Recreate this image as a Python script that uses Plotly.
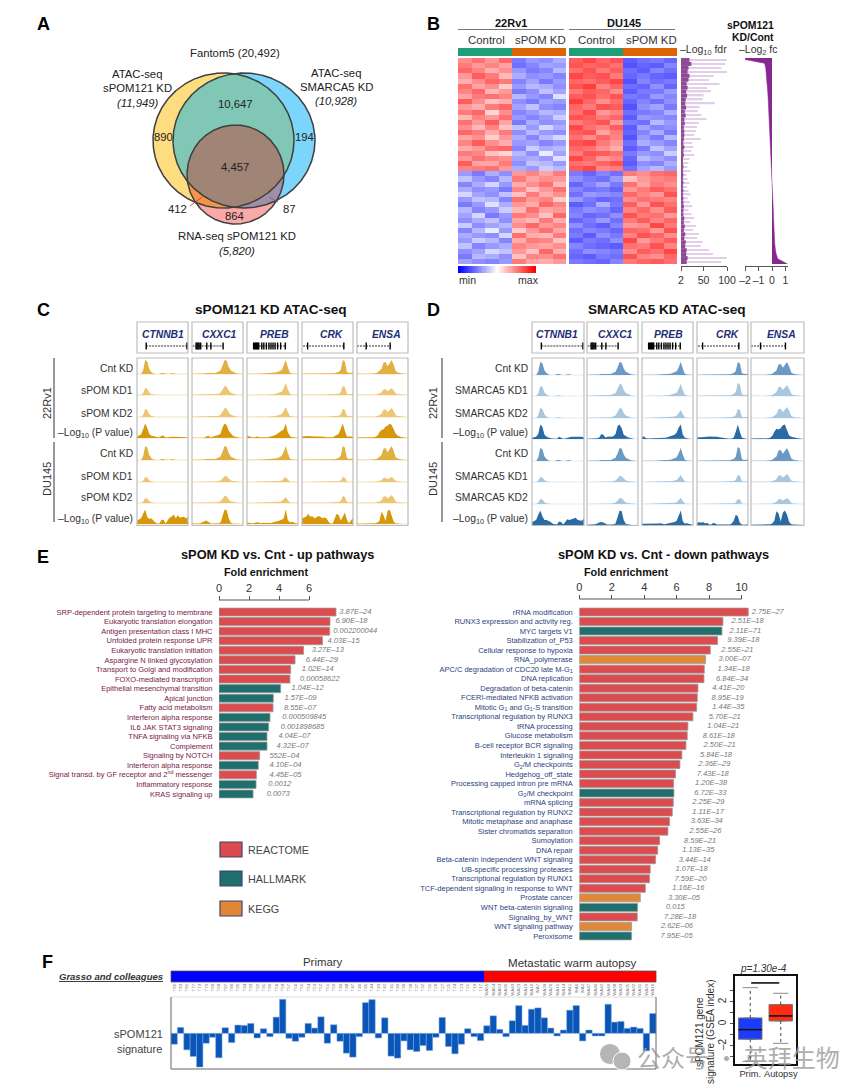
import numpy as np
import plotly.graph_objects as go

W, H = 865, 1091
FONT = "Liberation Sans"
DARK = "#333333"

# ---------- DATA ----------
venn_sets = {"yellow": (223.5, 140.5, 70.5, 67.5), "blue": (244, 140.5, 71, 67.5), "pink": (235.5, 174.5, 48.5, 49.5)}

heat_22rv1 = [
 [72,78,70,80,24,30,28,34],[76,70,74,68,22,26,32,30],[80,74,66,72,30,24,26,36],[70,82,76,64,34,28,30,26],
 [66,72,80,76,26,32,24,30],[78,68,72,60,30,36,34,28],[74,80,64,70,24,28,38,32],[68,76,78,74,36,30,26,44],
 [82,72,62,66,28,24,32,30],[70,66,76,80,32,38,28,26],[76,80,58,72,26,30,36,34],[64,74,70,78,30,26,30,40],
 [78,70,82,68,24,34,28,30],[72,64,74,62,38,30,42,34],[80,76,66,76,28,36,30,28],[68,72,60,70,34,26,36,42],
 [74,82,72,66,30,32,26,30],[66,70,78,80,26,40,34,36],[76,74,62,58,36,28,46,32],[70,78,74,72,32,34,30,44],
 [82,68,68,76,28,38,36,30],[74,76,78,70,34,30,40,36],
 [30,24,34,28,70,74,68,76],[38,30,26,36,76,68,72,70],[26,34,42,30,66,72,78,64],[34,28,30,24,74,62,70,78],
 [42,32,28,38,62,76,66,72],[30,38,36,26,78,70,74,60],[24,30,44,34,70,66,80,74],[36,26,30,40,64,78,68,70],
 [32,42,24,30,76,72,62,80],[28,34,38,28,68,64,76,66],[40,28,32,36,72,80,70,74],[26,36,46,30,60,70,78,68],
 [34,30,28,42,78,66,64,76],[30,40,36,26,66,76,74,62],[38,26,30,34,74,70,68,72],[28,32,42,38,70,62,80,66],
 [24,36,34,28,62,74,72,78],[32,28,26,30,76,68,66,70]]

heat_du145 = [
 [82,86,80,84,18,22,24,20],[84,80,82,78,16,20,18,26],[78,84,76,82,22,18,26,22],[86,82,84,76,20,24,20,18],
 [80,78,82,86,16,26,22,24],[84,88,74,80,22,20,28,20],[76,82,80,72,18,24,24,30],[82,84,78,84,24,22,30,26],
 [88,80,72,78,20,26,22,28],[80,76,84,82,16,28,32,24],[78,86,70,74,22,24,26,34],[84,82,76,80,18,30,28,26],
 [76,80,84,70,24,22,36,30],[86,78,74,82,18,32,26,28],[82,84,68,76,20,26,34,24],[78,72,80,74,16,30,24,36],
 [84,86,76,70,22,34,30,26],[80,78,72,66,18,24,38,32],[76,84,82,78,24,30,28,40],[86,80,70,74,20,36,32,28],
 [78,76,80,84,18,28,26,34],[82,86,74,76,22,32,36,30],
 [24,20,26,22,76,72,78,80],[28,24,22,30,62,70,74,76],[20,26,32,24,78,68,76,72],[26,22,24,20,70,76,82,78],
 [22,30,28,26,80,74,70,84],[30,24,20,22,72,78,76,74],[18,22,34,24,82,70,84,78],[24,28,26,20,74,80,72,82],
 [26,20,22,28,84,76,78,70],[20,24,30,22,76,82,74,80],[28,22,18,26,70,72,86,76],[22,26,24,20,80,78,70,84],
 [24,18,28,24,74,84,80,72],[18,24,22,28,86,70,76,82],[26,22,20,18,78,76,84,74],[22,28,26,24,72,82,78,86],
 [20,18,24,22,84,74,72,80],[24,22,20,26,76,80,82,78]]

color_scale_values = list(range(0, 101, 2))

fdr_dark = [20,24,18,16,20,18,14,16,13,15,12,11,13,10,12,9,10,8,9,9,8,7,9,7,8,6,6,7,6,7,6,7,6,7,6,7,7,8,7,7,9,8,10,8,11,9,12,11,14,13,16,14]
fdr_light = [100,96,88,100,72,62,84,58,66,50,48,74,42,38,46,56,40,36,34,30,44,26,28,24,30,20,18,16,22,14,16,20,14,18,22,16,20,26,18,24,30,22,34,28,40,36,48,44,62,70,100,88]

fc_vals = [-2.6,-0.55,-0.46,-0.42,-0.39,-0.36,-0.33,-0.3,-0.28,-0.26,-0.24,-0.22,-0.2,-0.18,-0.16,-0.14,-0.12,-0.1,-0.08,-0.06,-0.03,-0.01,
           0.01,0.03,0.05,0.06,0.07,0.08,0.09,0.1,0.11,0.12,0.13,0.15,0.17,0.2,0.24,0.3,0.42,1.15]

track_genes = ["CTNNB1", "CXXC1", "PREB", "CRK", "ENSA"]
signal_profiles = [
 [0,0,0,.25,1,.9,.35,.15,.03,0,0,0,.08,.08,.02,0,0,.06,.06,0,0,.05,.04,0,0,0],
 [.02,.02,.02,.02,.02,.03,.03,.08,.08,.03,.05,.08,.1,.15,.25,.6,1,.95,.5,.25,.15,.1,.03,.02,.01,.01],
 [.01,.02,.02,.01,.01,.02,.01,.02,.03,.02,.02,.03,.05,.07,.1,.15,.2,.28,.6,1,.5,.1,.04,.02,.02,.01],
 [.02,.03,.03,.03,.02,.03,.03,.03,.03,.02,.03,.02,.03,.03,.03,.03,.05,.1,.15,.3,1,.9,.15,.08,.1,.1],
 [.02,.01,.01,.01,.01,.01,.01,.02,.02,.05,.1,.2,.35,.8,.85,.55,.75,1,.65,.2,.1,.05,.03,.02,.01,.01]]
c_heights = [[14,14,14,14,14],[7,9,12,9,7],[8,9,10,8,9],[14,14,14,14,14],[5,6,5,5,5],[5,7,6,7,8]]
d_heights = [[13,13,13,13,13],[10,12,12,13,11],[10,10,8,9,11],[13,13,13,14,13],[5,6,7,7,8],[5,6,6,5,6]]
c_p_22 = [
 [.1,.15,.25,.6,1,.7,.3,.15,.12,.08,.03,.03,.15,.15,.03,.05,.1,.08,.08,.08,.1,.08,.08,.06,.06,.03],
 [.02,.02,.02,.02,.02,.02,.02,.1,.15,.05,.08,.1,.12,.2,.3,.75,1,.9,.5,.3,.15,.1,.05,.03,.02,.02],
 [.15,.12,.05,.03,.05,.1,.05,.04,.06,.05,.05,.08,.1,.15,.2,.3,.42,.5,.6,1,.4,.15,.05,.05,.02,.02],
 [.1,.12,.12,.14,.12,.12,.1,.13,.1,.1,.08,.08,.06,.08,.06,.05,.1,.2,.3,.6,1,.5,.1,.1,.1,.1],
 [.03,.03,.03,.03,.03,.02,.02,.03,.05,.08,.15,.4,.55,.6,.8,.85,1,.9,.6,.3,.15,.08,.06,.04,.03,.02]]
c_p_du = [
 [.25,.3,.4,.7,1,.5,.35,.4,.25,.1,.03,.03,.3,.3,.03,.25,.45,.5,.65,.4,.6,.45,.45,.5,.4,.45],
 [.03,.02,.03,.03,.05,.1,.2,.25,.15,.05,.03,.03,.03,.05,.1,.55,1,.95,.4,.1,.03,.03,.03,.02,.02,.02],
 [.1,.08,.05,.04,.08,.12,.08,.05,.08,.1,.07,.08,.07,.12,.15,.2,.25,.3,.4,1,.3,.1,.15,.1,.05,.03],
 [.4,.45,.5,.7,.5,.55,.4,.45,.55,.5,.4,.45,.4,.15,.03,.02,.4,.7,.6,.25,.5,.8,.3,.05,.25,.4],
 [.02,.02,.02,.02,.02,.02,.02,.02,.03,.05,.1,.2,.85,.6,.2,.9,1,.6,.15,.05,.03,.02,.02,.02,.02,.02]]
d_p_22 = [
 [.08,.1,.15,.35,1,.85,.3,.15,.08,.05,.03,.02,.02,.15,.1,.02,.03,.1,.12,.15,.15,.15,.18,.18,.15,.1],
 [.02,.02,.02,.02,.03,.05,.1,.35,.3,.1,.15,.18,.15,.2,.35,.9,1,.75,.3,.2,.12,.08,.04,.02,.02,.02],
 [.15,.18,.05,.03,.03,.05,.05,.03,.05,.07,.06,.08,.1,.15,.2,.25,.3,.45,.8,1,.3,.1,.05,.03,.02,.02],
 [.1,.1,.12,.15,.15,.15,.18,.18,.15,.15,.15,.12,.1,.08,.03,.02,.02,.03,.1,.5,1,.5,.1,.05,.03,.03],
 [.03,.03,.03,.03,.02,.02,.03,.03,.05,.08,.2,.5,.7,.65,.75,.95,1,.6,.25,.15,.1,.08,.06,.04,.03,.02]]
d_p_du = [
 [.2,.25,.35,.7,1,.6,.35,.35,.3,.2,.08,.03,.03,.25,.2,.03,.25,.4,.35,.4,.45,.5,.35,.35,.3,.45],
 [.02,.02,.03,.03,.05,.1,.18,.2,.18,.1,.03,.03,.03,.05,.1,.5,1,.95,.35,.08,.03,.03,.02,.02,.02,.02],
 [.08,.08,.05,.05,.08,.05,.05,.08,.1,.12,.08,.06,.08,.1,.12,.15,.2,.3,.6,1,.25,.1,.12,.08,.05,.03],
 [.12,.2,.15,.2,.1,.15,.03,.03,.15,.08,.03,.03,.03,.03,.03,.03,.03,.1,.3,.7,.6,.15,.03,.02,.05,.05],
 [.02,.02,.02,.02,.02,.02,.02,.02,.03,.05,.1,.3,.95,.8,.25,.85,1,.7,.2,.05,.03,.02,.02,.02,.02,.02]]
gene_spans = [(.18,.98),(.01,.61),(.12,.76),(.02,.82),(.0,.66)]
gene_exons = [[.18,.98],[.08,.1,.12,.14,.17,.29,.37,.61],[.13,.15,.17,.19,.21,.23,.29,.33,.38,.43,.47,.51,.55,.6,.66,.75],[.11,.82],[.18,.65]]

up_names = ["SRP-dependent protein targeting to membrane","Eukaryotic translation elongation","Antigen presentation class I MHC","Unfolded protein response UPR","Eukaryotic translation initiation","Aspargine N linked glycosylation","Transport to Golgi and modification","FOXO-mediated transcription","Epithelial mesenchymal transition","Apical junction","Fatty acid metabolism","Interferon alpha response","IL6 JAK STAT3 signaling","TNFA signaling via NFKB","Complement","Signaling by NOTCH","Interferon alpha response","Signal transd. by GF receptor and 2<sup>nd</sup> messenger","Inflammatory response","KRAS signaling up"]
up_values = [7.8,7.4,7.38,6.9,5.64,5.07,4.78,4.73,4.11,3.62,3.6,3.4,3.31,3.2,3.2,2.71,2.62,2.49,2.47,2.27]
up_source = ["R","R","R","R","R","R","R","R","H","H","R","H","H","H","H","R","H","R","H","H"]
up_p = ["3.87E–24","6.90E–18","0.002200044","4.03E–15","3.27E–13","6.44E–29","1.02E–14","0.00058622","1.04E–12","1.57E–09","8.55E–07","0.000509845","0.001898685","4.04E–07","4.32E–07","552E–04","4.10E–04","4.45E–05","0.0012","0.0073"]
up_p_x = [8.02,7.76,7.62,7.24,6.18,5.78,5.51,5.4,4.84,4.36,4.33,4.22,4.11,3.96,3.84,3.36,3.36,3.36,3.29,3.18]

down_names = ["rRNA modification","RUNX3 expression and activity reg.","MYC targets V1","Stabilization of_P53","Cellular response to hypoxia","RNA_polymerase","APC/C degradation of CDC20 late M-G<sub>1</sub>","DNA replication","Degradation of beta-catenin","FCERI-mediated NFKB activation","Mitotic G<sub>1</sub> and G<sub>1</sub>-S transition","Transcriptional regulation by RUNX3","tRNA processing","Glucose metabolism","B-cell receptor BCR signaling","Interleukin 1 signaling","G<sub>2</sub>/M checkpoints","Hedgehog_off_state","Processing capped intron pre mRNA","G<sub>2</sub>/M checkpoint","mRNA splicing","Transcriptional regulation by RUNX2","Mitotic metaphase and anaphase","Sister chromatids separation","Sumoylation","DNA repair","Beta-catenin independent WNT signaling","UB-specific processing proteases","Transcriptional regulation by RUNX1","TCF-dependent signaling in response to WNT","Prostate cancer","WNT beta-catenin signaling","Signaling_by_WNT","WNT signaling pathway","Peroxisome"]
down_values = [10.41,8.85,8.79,8.52,8.07,7.78,7.70,7.68,7.31,7.27,7.23,7.00,6.69,6.65,6.57,6.32,6.20,5.93,5.81,5.83,5.79,5.73,5.56,5.46,4.95,4.83,4.70,4.37,4.33,4.07,3.76,3.59,3.57,3.22,3.22]
down_source = ["R","R","H","R","R","K","R","R","R","R","R","R","R","R","R","R","R","R","R","H","R","R","R","R","R","R","R","R","R","R","K","H","R","K","H"]
down_p = ["2.75E–27","2.51E–18","2.11E–71","9.39E–18","2.55E–21","3.00E–07","1.34E–18","6.84E–34","4.41E–20","8.95E–19","1.44E–35","5.70E–21","1.04E–21","8.61E–18","2.50E–21","5.84E–18","2.36E–29","7.43E–18","1.20E–38","6.72E–33","2.25E–29","1.11E–17","3.63E–34","2.55E–26","8.59E–21","1.13E–35","3.44E–14","1.07E–18","7.59E–20","1.16E–16","3.30E–05","0.015","7.28E–18","2.62E–06","7.95E–05"]
down_p_x = [10.62,9.38,9.26,9.12,8.75,8.58,8.52,8.42,8.19,8.15,8.19,7.97,7.88,7.60,7.66,7.43,7.33,7.23,7.13,7.08,6.96,6.96,6.86,6.78,6.45,6.34,6.12,5.93,5.87,5.73,5.46,5.34,5.22,5.03,5.01]
source_colors = {"R": "#dc4b4e", "H": "#1f6f6d", "K": "#e08838"}
legend_items = [("REACTOME", "R"), ("HALLMARK", "H"), ("KEGG", "K")]

primary_samples = ["T85","T83","T81","T77","T73","T70","T69","T68","T87","T86","T95","T94","T93","T92","T91","T90","T59","T58","T57","T56","T55","T54","T53","T52","T51","T50","T49","T48","T47","T46","T45","T44","T43","T42","T41","T40","T39","T38","T37","T32","T31","T29","T27","T25","T24","T23","T21","T19","T17"]
autopsy_samples = ["WA55","WA54","WA53","WA30","WA43","WA23","WA19","WA10","WA7","WA39","WA26","WA15","WA14","WA11","WA6","WA2","WA47","WA46","WA42","WA40","WA38","WA33","WA35","WA32","WA31","WA20","WA16"]
primary_signature = [-33,18,-50,-70,-102,-30,-12,-74,17,-28,25,24,30,-14,14,-10,49,103,-15,-24,-12,30,16,50,-30,26,-24,-60,-72,-10,93,102,-14,47,-69,-75,-23,-50,-55,-37,-52,-12,48,-40,-62,-33,14,-10,-22]
autopsy_signature = [23,53,12,-10,38,84,24,73,77,47,16,-8,10,70,84,-23,10,-8,-8,88,34,36,15,19,15,-53,60]

box_groups = ["Prim.", "Autopsy"]
box_q1 = [-1.39, 0.27]
box_median = [-0.52, 0.73]
box_q3 = [0.55, 1.76]
box_low = [-3.4, -1.76]
box_high = [3.3, 2.79]
box_fill = ["#1a3cff", "#ff2a10"]
box_outlier = [-3.0]

# ---------- helpers ----------
def fx(x): return x / W
def fy(y): return 1 - y / H

fig = go.Figure()
anns, shapes, layout = [], [], {}
_n = [0]

def axes(x0, x1, y0, y1, xr=None, yr=None, xopt=None, yopt=None):
    """new axis pair occupying page box x0..x1, y0(top)..y1(bottom)"""
    _n[0] += 1
    n = _n[0]
    sfx = "" if n == 1 else str(n)
    xa = dict(domain=[fx(x0), fx(x1)], range=xr, visible=False, anchor="y" + sfx, fixedrange=True, automargin=False)
    ya = dict(domain=[fy(y1), fy(y0)], range=yr, visible=False, anchor="x" + sfx, fixedrange=True, automargin=False)
    xa.update(xopt or {}); ya.update(yopt or {})
    layout["xaxis" + sfx] = xa
    layout["yaxis" + sfx] = ya
    return "x" + sfx, "y" + sfx

def T(x, y, text, size=10, color=DARK, anchor="center", angle=0, family=FONT, opacity=None):
    a = dict(x=fx(x), y=fy(y), xref="paper", yref="paper", text=text, showarrow=False,
             font=dict(size=size, color=color, family=family), xanchor=anchor, yanchor="middle",
             textangle=angle, borderpad=0, borderwidth=0)
    if opacity is not None:
        a["opacity"] = opacity
    anns.append(a)

def L(x0, y0, x1, y1, color=DARK, width=1):
    shapes.append(dict(type="line", xref="paper", yref="paper", x0=fx(x0), x1=fx(x1), y0=fy(y0), y1=fy(y1),
                       line=dict(color=color, width=width)))

def R(x0, y0, x1, y1, fill="rgba(0,0,0,0)", color="#bdbdbd", width=1.2):
    shapes.append(dict(type="rect", xref="paper", yref="paper", x0=fx(x0), x1=fx(x1), y0=fy(y0), y1=fy(y1),
                       fillcolor=fill, line=dict(color=color, width=width)))

# panel letters
for x, y, t in [(43, 24, "A"), (433, 24, "B"), (43, 310, "C"), (433, 310, "D"), (43, 557, "E"), (47, 962, "F")]:
    T(x, y, f"<b>{t}</b>", size=18, color="#000000")

# ---------- Panel A ----------
def ell(s, n=720):
    c = np.linspace(0, 2 * np.pi, n)
    return s[0] + s[2] * np.cos(c), s[1] + s[3] * np.sin(c)

def inside(px, py, s):
    return ((px - s[0]) / s[2]) ** 2 + ((py - s[1]) / s[3]) ** 2 <= 1.0

def meet(*sets):
    xs, ys = [], []
    for i, s in enumerate(sets):
        px, py = ell(s)
        keep = np.ones_like(px, bool)
        for j, o in enumerate(sets):
            if j != i:
                keep &= inside(px, py, o)
        xs.append(px[keep]); ys.append(py[keep])
    xs, ys = np.concatenate(xs), np.concatenate(ys)
    order = np.argsort(np.arctan2(ys - ys.mean(), xs - xs.mean()))
    return np.append(xs[order], xs[order][0]), np.append(ys[order], ys[order][0])

vx, vy = axes(130, 340, 60, 240, [130, 340], [240, 60])
Y, B, P = venn_sets["yellow"], venn_sets["blue"], venn_sets["pink"]
def vfill(px, py, color):
    fig.add_trace(go.Scatter(x=px, y=py, mode="lines", fill="toself", fillcolor=color, line=dict(width=0), xaxis=vx, yaxis=vy, hoverinfo="skip", showlegend=False))
vfill(*ell(Y), "#fedd80")
vfill(*ell(B), "#7cd5fb")
vfill(*meet(Y, B), "#80c8b5")
vfill(*ell(P), "#faa9a9")
vfill(*meet(Y, P), "#f59548")
vfill(*meet(B, P), "#a08fa8")
vfill(*meet(Y, B, P), "#a08475")
for s in (Y, B, P):
    px, py = ell(s)
    fig.add_trace(go.Scatter(x=px, y=py, mode="lines", line=dict(color="#3f3f3f", width=1.5), xaxis=vx, yaxis=vy, hoverinfo="skip", showlegend=False))
L(190, 206, 202, 197, "#b03030", 0.8)
L(278, 202, 269, 197, "#666666", 0.8)
for x, y, t in [(235, 53, "Fantom5 (20,492)"), (137, 74, "ATAC-seq"), (137, 88, "sPOM121 KD"), (137, 103, "<i>(11,949)</i>"),
                (336, 73, "ATAC-seq"), (336, 87, "SMARCA5 KD"), (336, 101, "<i>(10,928)</i>"),
                (236, 104, "10,647"), (163, 137, "890"), (304, 137, "194"), (235, 167, "4,457"),
                (177, 209, "412"), (235, 216, "864"), (289, 209, "87"), (237, 236, "RNA-seq sPOM121 KD"), (237, 251, "<i>(5,820)</i>")]:
    T(x, y, t, size=11.3, color="#222222")

# ---------- Panel B ----------
CS = [[0, "#0000ff"], [0.5, "#ffffff"], [1, "#ff0000"]]
for rows, x0, x1 in [(heat_22rv1, 458, 566), (heat_du145, 569, 677)]:
    hx, hy = axes(x0, x1, 58, 264, [-0.5, 7.5], [len(rows) - 0.5, -0.5])
    fig.add_trace(go.Heatmap(z=rows, zmin=0, zmax=100, colorscale=CS, showscale=False, xaxis=hx, yaxis=hy, hoverinfo="skip"))
    mid = (x0 + x1) / 2
    R(x0, 48, mid, 56, "#1f9e78", "#1f9e78", 0)
    R(mid, 48, x1, 56, "#dc6400", "#dc6400", 0)
cx, cy = axes(458, 536, 266, 273, [-1, 101], [-0.5, 0.5])
fig.add_trace(go.Heatmap(z=[color_scale_values], x=color_scale_values, zmin=0, zmax=100, colorscale=CS, showscale=False, xaxis=cx, yaxis=cy, hoverinfo="skip"))
for x, y, t, c in [(511, 23, "<b>22Rv1</b>", "#111"), (624, 23, "<b>DU145</b>", "#111")]:
    T(x, y, t, size=11, color=c)
L(458, 29.5, 564, 29.5, "#777", 1); L(569, 29.5, 675, 29.5, "#777", 1)
for x, t in [(486, "Control"), (540, "sPOM KD"), (596, "Control"), (651, "sPOM KD")]:
    T(x, 40, t, size=11.4)
T(467, 280, "min", size=10.6); T(528, 280, "max", size=10.6)
T(750, 25, "<b>sPOM121</b>", size=10.4, color="#111"); T(753, 38, "<b>KD/Cont</b>", size=10.4, color="#111")
T(703, 50, "–Log<sub>10</sub> fdr", size=10.5); T(758, 50, "–Log<sub>2</sub> fc", size=10.5)

axis_tick = dict(visible=True, showgrid=False, zeroline=False, showline=True, linecolor="#555", linewidth=1,
                 ticks="outside", ticklen=4, tickcolor="#555", tickwidth=1, tickangle=0,
                 tickfont=dict(size=10.5, color=DARK, family=FONT))
fx_, fy_ = axes(681, 727, 58, 264, [2, 100], [len(fdr_light) - 0.5, -0.5],
                xopt=dict(axis_tick, anchor="free", position=fy(266), tickvals=[2, 50, 100]))
rows_f = list(range(len(fdr_light)))
fig.add_trace(go.Bar(x=[v - 2 for v in fdr_light], base=2, y=rows_f, orientation="h", marker=dict(color="#e3cde8", line=dict(width=0)), width=0.35, xaxis=fx_, yaxis=fy_, hoverinfo="skip", showlegend=False))
fig.add_trace(go.Bar(x=[v - 2 for v in fdr_dark], base=2, y=rows_f, orientation="h", marker=dict(color="#8e4a97", line=dict(width=0)), width=1, xaxis=fx_, yaxis=fy_, hoverinfo="skip", showlegend=False))
layout["barmode"] = "overlay"
gx, gy = axes(745, 788, 58, 264, [-2, 1.185], [len(fc_vals) - 1, 0],
              xopt=dict(axis_tick, anchor="free", position=fy(266), tickvals=[-2, -1, 0, 1], ticktext=["–2", "–1", "0", "1"]))
fig.add_trace(go.Scatter(x=fc_vals, y=list(range(len(fc_vals))), mode="lines", line=dict(color="#86288f", width=0.5),
                         fill="tozerox", fillcolor="#86288f", xaxis=gx, yaxis=gy, hoverinfo="skip", showlegend=False, cliponaxis=False))

# ---------- Panels C, D ----------
TOP, BOT = 322, 527
track_x = np.linspace(0, 1, 26)

def tracks(boxes, bases, heights, p22, pdu, cols, names_x, labels, title, title_x, lab_x, line_x, rot_x):
    col_cnt, col_kd, col_p, col_base = cols
    for g, (x0, x1) in enumerate(boxes):
        ax, ay = axes(x0, x1, TOP, BOT, [0, 1], [BOT, TOP])
        R(x0, 322, x1, 353)
        R(x0, 358, x1, 525.5)
        series = [(signal_profiles[g], heights[0][g], col_cnt), (signal_profiles[g], heights[1][g], col_kd),
                  (signal_profiles[g], heights[2][g], col_kd), (p22[g], 14.5, col_p),
                  (signal_profiles[g], heights[3][g], col_cnt), (signal_profiles[g], heights[4][g], col_kd),
                  (signal_profiles[g], heights[5][g], col_kd), (pdu[g], 14.5, col_p)]
        for base, (prof, h, c) in zip(bases, series):
            fig.add_trace(go.Scatter(x=[0, 1], y=[base, base], mode="lines", line=dict(color=col_base, width=1), xaxis=ax, yaxis=ay, hoverinfo="skip", showlegend=False))
            top = base - np.array(prof) * h
            fig.add_trace(go.Scatter(x=np.r_[track_x, track_x[::-1]], y=np.r_[top, np.full(26, base)], mode="lines", fill="toself",
                                     fillcolor=c, line=dict(width=0), xaxis=ax, yaxis=ay, hoverinfo="skip", showlegend=False))
        s0, s1 = gene_spans[g]
        fig.add_trace(go.Scatter(x=[s0, s1], y=[346, 346], mode="lines", line=dict(color="#333", width=1, dash="2px,1px"), xaxis=ax, yaxis=ay, hoverinfo="skip", showlegend=False))
        fig.add_trace(go.Scatter(x=gene_exons[g], y=[346] * len(gene_exons[g]), mode="markers", marker=dict(symbol="line-ns", size=5, line=dict(color="#000", width=1.4)), xaxis=ax, yaxis=ay, hoverinfo="skip", showlegend=False))
        T(names_x[g], 334, f"<b><i>{track_genes[g]}</i></b>", size=10.3, color="#1c2f78")
    for y, t in zip([369, 391, 413, 433, 454, 477, 497, 519], labels):
        T(lab_x, y, t, size=10.3, anchor="right")
    L(line_x, 358, line_x, 438, "#555", 1.2); L(line_x, 442, line_x, 522, "#555", 1.2)
    T(rot_x, 403, "22Rv1", size=11, angle=-90); T(rot_x, 479, "DU145", size=11, angle=-90)
    T(title_x, 310, f"<b>{title}</b>", size=13.6, color="#111")

pv = "–Log<sub>10</sub> (P value)"
tracks([(137, 188), (192, 243), (247, 298), (302, 353), (357, 408)], [374, 395, 417, 438, 460, 482, 503, 524], c_heights, c_p_22, c_p_du,
       ("#e0b040", "#ecc673", "#d6980a", "#f5e2b8"), [163, 219, 274, 332, 386],
       ["Cnt KD", "sPOM KD1", "sPOM KD2", pv, "Cnt KD", "sPOM KD1", "sPOM KD2", pv], "sPOM121 KD ATAC-seq", 271, 133, 54, 47)
tracks([(532, 584), (587, 638), (642, 693), (697, 748), (751, 804)], [375, 396, 418, 439, 461, 482, 504, 525], d_heights, d_p_22, d_p_du,
       ("#6a9ac4", "#a8c6de", "#2a6aa5", "#dfebf4"), [557, 615, 668, 728, 781],
       ["Cnt KD", "SMARCA5 KD1", "SMARCA5 KD2", pv, "Cnt KD", "SMARCA5 KD1", "SMARCA5 KD2", pv], "SMARCA5 KD ATAC-seq", 667, 528, 442, 433)

# ---------- Panel E ----------
def pathway(names, values, src, pvals, px_, x0, ppu, y0, step, lab_col, lab_size, ticks, axis_y, title, title_x, fe_x):
    n = len(names)
    xr = [0, 12]
    ys = list(range(n))
    bx, by = axes(x0, x0 + 12 * ppu, y0, y0 + n * step, xr, [n - 0.5, -0.5],
                  xopt=dict(axis_tick, showline=False, anchor="free", position=fy(axis_y), side="top", tickvals=ticks,
                            tickfont=dict(size=11, color=DARK, family=FONT)),
                  yopt=dict(visible=True, showgrid=False, zeroline=False, showline=False, tickvals=ys, ticktext=names,
                            ticks="outside", ticklen=4, tickcolor="rgba(0,0,0,0)", tickfont=dict(size=lab_size, color=lab_col, family=FONT)))
    fig.add_trace(go.Bar(x=values, y=ys, orientation="h", width=0.84, marker=dict(color=[source_colors[s] for s in src], line=dict(color="#9a9a9a", width=0.8)),
                         xaxis=bx, yaxis=by, hoverinfo="skip", showlegend=False))
    fig.add_trace(go.Scatter(x=px_, y=ys, mode="text", text=[f"<i>{p}</i>" for p in pvals], textposition="middle right",
                             textfont=dict(size=7.5, color="#777777", family=FONT), xaxis=bx, yaxis=by, hoverinfo="skip", showlegend=False, cliponaxis=False))
    L(x0, axis_y, x0 + ticks[-1] * ppu, axis_y, "#555", 1)
    T(title_x, 554, f"<b>{title}</b>", size=12.8, color="#111")
    T(fe_x, 572, "<b>Fold enrichment</b>", size=10.8, color="#111")

pathway(up_names, up_values, up_source, up_p, up_p_x, 219, 15, 607.2, 9.58, "#7a2048", 7.5, [0, 2, 4, 6], 600, "sPOM KD vs. Cnt - up pathways", 277, 266)
pathway(down_names, down_values, down_source, down_p, down_p_x, 579.3, 16.23, 607.2, 9.53, "#2b3f80", 7.5, [0, 2, 4, 6, 8, 10], 599, "sPOM KD vs. Cnt - down pathways", 663, 626)

for (name, key), (y0, y1) in zip(legend_items, [(842, 857), (871, 886), (901, 916)]):
    R(220, y0, 242, y1, source_colors[key], "#3c4570", 1.2)
    T(248, (y0 + y1) / 2, name, size=10.8, color="#444", anchor="left")

# ---------- Panel F ----------
samples = primary_samples + autopsy_samples
sig = primary_signature + autopsy_signature
groups = [0] * len(primary_samples) + [1] * len(autopsy_samples)
sx, sy = axes(171, 656, 971, 982, [-0.5, len(samples) - 0.5], [-0.5, 0.5],
              xopt=dict(visible=True, showgrid=False, zeroline=False, side="bottom", tickmode="array", tickvals=list(range(len(samples))), ticktext=samples,
                        tickangle=-90, ticks="", tickfont=dict(size=4.4, color="#777", family=FONT)))
fig.add_trace(go.Heatmap(z=[groups], zmin=0, zmax=1, colorscale=[[0, "#0000ff"], [1, "#ff0000"]], showscale=False, xaxis=sx, yaxis=sy, hoverinfo="skip"))
tx, ty = axes(171, 656, 997, 1069, [-0.5, len(samples) - 0.5], [-108, 110])
fig.add_trace(go.Bar(x=list(range(len(sig))), y=sig, width=1, marker=dict(color="#0a55b8", line=dict(color="#7fa9e0", width=0.5)), xaxis=tx, yaxis=ty, hoverinfo="skip", showlegend=False))
R(171, 971, 656, 982, "rgba(0,0,0,0)", "#555", 0.8)
L(171, 997, 656, 997, "#ddd", 1)
L(171, 997, 171, 1069, "#666", 1); L(656, 997, 656, 1069, "#666", 1); L(171, 1069, 656, 1069, "#666", 1)
T(163, 976, "<b><i><u>Grasso and colleagues</u></i></b>", size=9.5, color="#333", anchor="right")
T(323, 962, "Primary", size=11.4); T(572, 962, "Metastatic warm autopsy", size=11.6)
T(163, 1034, "sPOM121", size=11, color="#444", anchor="right"); T(162, 1049, "signature", size=11, color="#444", anchor="right")

bxa, bya = axes(735, 796, 976, 1064, [-0.5, 1.5], [-3.64, 4.36],
                xopt=dict(visible=True, showgrid=False, zeroline=False, showline=True, mirror=True, linecolor="#111", linewidth=2,
                          tickvals=[0, 1], ticktext=box_groups, ticks="", tickangle=0, tickfont=dict(size=9.3, color=DARK, family=FONT)),
                yopt=dict(visible=True, showgrid=False, zeroline=False, showline=True, mirror=True, linecolor="#111", linewidth=2,
                          tickvals=[-2, 0, 2], ticktext=["–2", "0", "2"], ticks="outside", ticklen=3, tickcolor="#555",
                          minor=dict(tickvals=[-3, -1, 1, 3], ticks="outside", ticklen=3, tickcolor="#555"),
                          tickangle=-90, tickfont=dict(size=10, color=DARK, family=FONT)))
for i in range(2):
    for a, b in [(box_q3[i], box_high[i]), (box_q1[i], box_low[i])]:
        fig.add_trace(go.Scatter(x=[i, i], y=[a, b], mode="lines", line=dict(color="#444", width=1, dash="dot"), xaxis=bxa, yaxis=bya, hoverinfo="skip", showlegend=False))
    for v in (box_high[i], box_low[i]):
        fig.add_trace(go.Scatter(x=[i - 0.25, i + 0.25], y=[v, v], mode="lines", line=dict(color="#888", width=1), xaxis=bxa, yaxis=bya, hoverinfo="skip", showlegend=False))
    fig.add_trace(go.Box(x=[i], q1=[box_q1[i]], median=[box_median[i]], q3=[box_q3[i]], lowerfence=[box_q1[i]], upperfence=[box_q3[i]],
                         fillcolor=box_fill[i], line=dict(color="#777", width=1), width=0.77, xaxis=bxa, yaxis=bya, hoverinfo="skip", showlegend=False))
    fig.add_trace(go.Scatter(x=[i - 0.385, i + 0.385], y=[box_median[i]] * 2, mode="lines", line=dict(color="#111", width=1.6), xaxis=bxa, yaxis=bya, hoverinfo="skip", showlegend=False))
fig.add_trace(go.Scatter(x=[0] * len(box_outlier), y=box_outlier, mode="markers", marker=dict(color="#555", size=2.5), xaxis=bxa, yaxis=bya, hoverinfo="skip", showlegend=False))
fig.add_trace(go.Scatter(x=[0.03, 0.95], y=[3.73, 3.73], mode="lines", line=dict(color="#111", width=1.6), xaxis=bxa, yaxis=bya, hoverinfo="skip", showlegend=False))
T(763, 968, "<i>p=1.30e-4</i>", size=10)
T(699, 1032, "sPOM121 gene", size=10, angle=-90); T(710, 1032, "signature (GSEA index)", size=10, angle=-90)

# watermark
for cx_, cy_, r in [(610, 1054, 10.5), (622, 1061, 9)]:
    shapes.append(dict(type="circle", xref="paper", yref="paper", x0=fx(cx_ - r), x1=fx(cx_ + r), y0=fy(cy_ - r), y1=fy(cy_ + r),
                       fillcolor="#b5b5b5", line=dict(color="#ffffff", width=1)))
T(738, 1056, "公众号 · 英拜生物", size=24, color="#9a9a9a", family="Noto Sans CJK SC", opacity=0.8)

fig.update_layout(width=W, height=H, margin=dict(l=0, r=0, t=0, b=0), paper_bgcolor="white", plot_bgcolor="rgba(0,0,0,0)",
                  showlegend=False, font=dict(family=FONT), annotations=anns, shapes=shapes, **layout)
fig.write_html("out.html", config={"displayModeBar": False}, post_script="document.body.style.margin='0';")
